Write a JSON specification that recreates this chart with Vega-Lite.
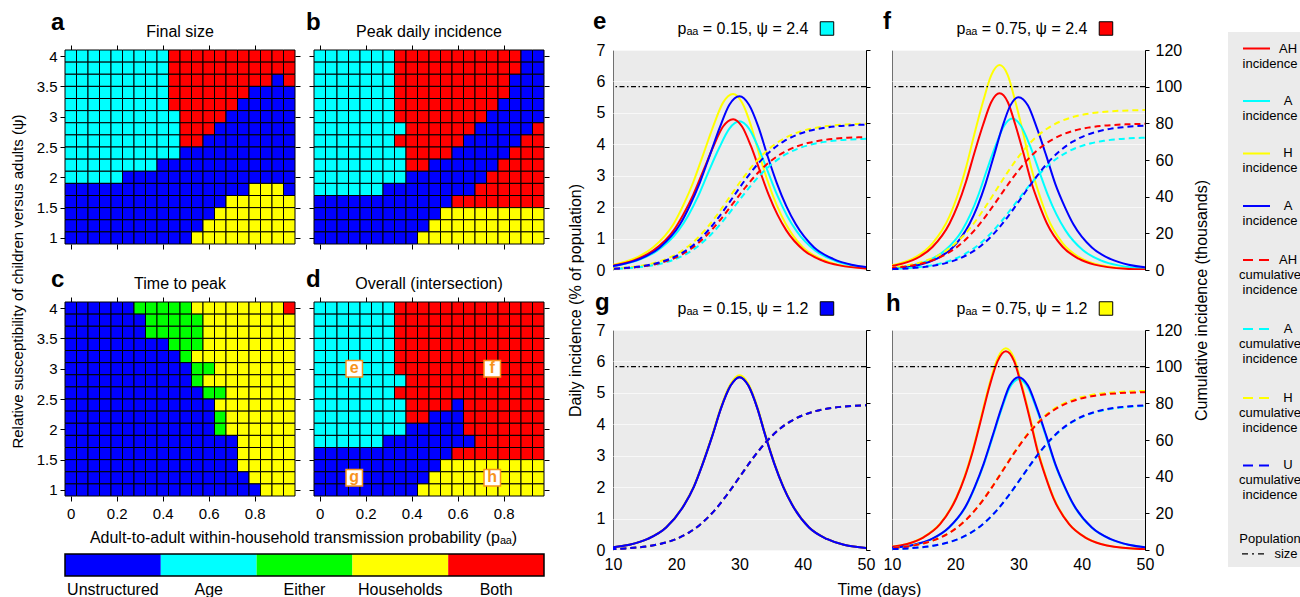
{
"$schema":"https://vega.github.io/schema/vega-lite/v6.json",
"background":"white",
"padding":{"left":10,"top":9,"right":0,"bottom":0},
"autosize":{"type":"pad"},
"config":{
 "font":"Liberation Sans",
 "view":{"stroke":null},
 "axis":{"labelFont":"Liberation Sans","titleFont":"Liberation Sans","labelColor":"#000","titleColor":"#000","tickColor":"#000","domainColor":"#000","labelFontSize":15,"titleFontSize":16,"titleFontWeight":"normal","grid":false,"domain":false,"tickSize":5,"labelPadding":3,"labelFlush":false,"labelOverlap":false},
 "text":{"font":"Liberation Sans","color":"#000"}
},
"datasets":{
"hm":[
{"p":"a","y":4,"c":["A","A","A","A","A","A","A","A","A","B","B","B","B","B","B","B","B","B","B","B"],"x":[0,0.05,0.1,0.15,0.2,0.25,0.3,0.35,0.4,0.45,0.5,0.55,0.6,0.65,0.7,0.75,0.8,0.85,0.9,0.95]},
{"p":"a","y":3.8,"c":["A","A","A","A","A","A","A","A","A","B","B","B","B","B","B","B","B","B","B","B"],"x":[0,0.05,0.1,0.15,0.2,0.25,0.3,0.35,0.4,0.45,0.5,0.55,0.6,0.65,0.7,0.75,0.8,0.85,0.9,0.95]},
{"p":"a","y":3.6,"c":["A","A","A","A","A","A","A","A","A","B","B","B","B","B","B","B","B","B","U","B"],"x":[0,0.05,0.1,0.15,0.2,0.25,0.3,0.35,0.4,0.45,0.5,0.55,0.6,0.65,0.7,0.75,0.8,0.85,0.9,0.95]},
{"p":"a","y":3.4,"c":["A","A","A","A","A","A","A","A","A","B","B","B","B","B","B","B","U","U","U","U"],"x":[0,0.05,0.1,0.15,0.2,0.25,0.3,0.35,0.4,0.45,0.5,0.55,0.6,0.65,0.7,0.75,0.8,0.85,0.9,0.95]},
{"p":"a","y":3.2,"c":["A","A","A","A","A","A","A","A","A","B","B","B","B","B","B","U","U","U","U","U"],"x":[0,0.05,0.1,0.15,0.2,0.25,0.3,0.35,0.4,0.45,0.5,0.55,0.6,0.65,0.7,0.75,0.8,0.85,0.9,0.95]},
{"p":"a","y":3,"c":["A","A","A","A","A","A","A","A","A","A","B","B","B","B","U","U","U","U","U","U"],"x":[0,0.05,0.1,0.15,0.2,0.25,0.3,0.35,0.4,0.45,0.5,0.55,0.6,0.65,0.7,0.75,0.8,0.85,0.9,0.95]},
{"p":"a","y":2.8,"c":["A","A","A","A","A","A","A","A","A","A","B","B","B","U","U","U","U","U","U","U"],"x":[0,0.05,0.1,0.15,0.2,0.25,0.3,0.35,0.4,0.45,0.5,0.55,0.6,0.65,0.7,0.75,0.8,0.85,0.9,0.95]},
{"p":"a","y":2.6,"c":["A","A","A","A","A","A","A","A","A","A","B","B","U","U","U","U","U","U","U","U"],"x":[0,0.05,0.1,0.15,0.2,0.25,0.3,0.35,0.4,0.45,0.5,0.55,0.6,0.65,0.7,0.75,0.8,0.85,0.9,0.95]},
{"p":"a","y":2.4,"c":["A","A","A","A","A","A","A","A","A","A","U","U","U","U","U","U","U","U","U","U"],"x":[0,0.05,0.1,0.15,0.2,0.25,0.3,0.35,0.4,0.45,0.5,0.55,0.6,0.65,0.7,0.75,0.8,0.85,0.9,0.95]},
{"p":"a","y":2.2,"c":["A","A","A","A","A","A","A","A","U","U","U","U","U","U","U","U","U","U","U","U"],"x":[0,0.05,0.1,0.15,0.2,0.25,0.3,0.35,0.4,0.45,0.5,0.55,0.6,0.65,0.7,0.75,0.8,0.85,0.9,0.95]},
{"p":"a","y":2,"c":["A","A","A","A","A","U","U","U","U","U","U","U","U","U","U","U","U","U","U","U"],"x":[0,0.05,0.1,0.15,0.2,0.25,0.3,0.35,0.4,0.45,0.5,0.55,0.6,0.65,0.7,0.75,0.8,0.85,0.9,0.95]},
{"p":"a","y":1.8,"c":["U","U","U","U","U","U","U","U","U","U","U","U","U","U","U","U","H","H","H","U"],"x":[0,0.05,0.1,0.15,0.2,0.25,0.3,0.35,0.4,0.45,0.5,0.55,0.6,0.65,0.7,0.75,0.8,0.85,0.9,0.95]},
{"p":"a","y":1.6,"c":["U","U","U","U","U","U","U","U","U","U","U","U","U","U","H","H","H","H","H","H"],"x":[0,0.05,0.1,0.15,0.2,0.25,0.3,0.35,0.4,0.45,0.5,0.55,0.6,0.65,0.7,0.75,0.8,0.85,0.9,0.95]},
{"p":"a","y":1.4,"c":["U","U","U","U","U","U","U","U","U","U","U","U","U","H","H","H","H","H","H","H"],"x":[0,0.05,0.1,0.15,0.2,0.25,0.3,0.35,0.4,0.45,0.5,0.55,0.6,0.65,0.7,0.75,0.8,0.85,0.9,0.95]},
{"p":"a","y":1.2,"c":["U","U","U","U","U","U","U","U","U","U","U","U","H","H","H","H","H","H","H","H"],"x":[0,0.05,0.1,0.15,0.2,0.25,0.3,0.35,0.4,0.45,0.5,0.55,0.6,0.65,0.7,0.75,0.8,0.85,0.9,0.95]},
{"p":"a","y":1,"c":["U","U","U","U","U","U","U","U","U","U","U","H","H","H","H","H","H","H","H","H"],"x":[0,0.05,0.1,0.15,0.2,0.25,0.3,0.35,0.4,0.45,0.5,0.55,0.6,0.65,0.7,0.75,0.8,0.85,0.9,0.95]},
{"p":"b","y":4,"c":["A","A","A","A","A","A","A","B","B","B","B","B","B","B","B","B","B","B","U","U"],"x":[0,0.05,0.1,0.15,0.2,0.25,0.3,0.35,0.4,0.45,0.5,0.55,0.6,0.65,0.7,0.75,0.8,0.85,0.9,0.95]},
{"p":"b","y":3.8,"c":["A","A","A","A","A","A","A","B","B","B","B","B","B","B","B","B","B","B","U","U"],"x":[0,0.05,0.1,0.15,0.2,0.25,0.3,0.35,0.4,0.45,0.5,0.55,0.6,0.65,0.7,0.75,0.8,0.85,0.9,0.95]},
{"p":"b","y":3.6,"c":["A","A","A","A","A","A","A","B","B","B","B","B","B","B","B","B","B","U","U","U"],"x":[0,0.05,0.1,0.15,0.2,0.25,0.3,0.35,0.4,0.45,0.5,0.55,0.6,0.65,0.7,0.75,0.8,0.85,0.9,0.95]},
{"p":"b","y":3.4,"c":["A","A","A","A","A","A","A","B","B","B","B","B","B","B","B","B","B","U","U","U"],"x":[0,0.05,0.1,0.15,0.2,0.25,0.3,0.35,0.4,0.45,0.5,0.55,0.6,0.65,0.7,0.75,0.8,0.85,0.9,0.95]},
{"p":"b","y":3.2,"c":["A","A","A","A","A","A","A","B","B","B","B","B","B","B","B","B","U","U","U","U"],"x":[0,0.05,0.1,0.15,0.2,0.25,0.3,0.35,0.4,0.45,0.5,0.55,0.6,0.65,0.7,0.75,0.8,0.85,0.9,0.95]},
{"p":"b","y":3,"c":["A","A","A","A","A","A","A","B","B","B","B","B","B","B","B","U","U","U","U","U"],"x":[0,0.05,0.1,0.15,0.2,0.25,0.3,0.35,0.4,0.45,0.5,0.55,0.6,0.65,0.7,0.75,0.8,0.85,0.9,0.95]},
{"p":"b","y":2.8,"c":["A","A","A","A","A","A","A","A","B","B","B","B","B","B","U","U","U","U","U","B"],"x":[0,0.05,0.1,0.15,0.2,0.25,0.3,0.35,0.4,0.45,0.5,0.55,0.6,0.65,0.7,0.75,0.8,0.85,0.9,0.95]},
{"p":"b","y":2.6,"c":["A","A","A","A","A","A","A","B","B","B","B","B","B","U","U","U","U","U","B","B"],"x":[0,0.05,0.1,0.15,0.2,0.25,0.3,0.35,0.4,0.45,0.5,0.55,0.6,0.65,0.7,0.75,0.8,0.85,0.9,0.95]},
{"p":"b","y":2.4,"c":["A","A","A","A","A","A","A","A","B","B","B","B","U","U","U","U","U","B","B","B"],"x":[0,0.05,0.1,0.15,0.2,0.25,0.3,0.35,0.4,0.45,0.5,0.55,0.6,0.65,0.7,0.75,0.8,0.85,0.9,0.95]},
{"p":"b","y":2.2,"c":["A","A","A","A","A","A","A","A","B","B","U","U","U","U","U","U","B","B","B","B"],"x":[0,0.05,0.1,0.15,0.2,0.25,0.3,0.35,0.4,0.45,0.5,0.55,0.6,0.65,0.7,0.75,0.8,0.85,0.9,0.95]},
{"p":"b","y":2,"c":["A","A","A","A","A","A","A","A","U","U","U","U","U","U","U","B","B","B","B","B"],"x":[0,0.05,0.1,0.15,0.2,0.25,0.3,0.35,0.4,0.45,0.5,0.55,0.6,0.65,0.7,0.75,0.8,0.85,0.9,0.95]},
{"p":"b","y":1.8,"c":["A","A","A","A","A","A","U","U","U","U","U","U","U","U","B","B","B","B","B","B"],"x":[0,0.05,0.1,0.15,0.2,0.25,0.3,0.35,0.4,0.45,0.5,0.55,0.6,0.65,0.7,0.75,0.8,0.85,0.9,0.95]},
{"p":"b","y":1.6,"c":["U","U","U","U","U","U","U","U","U","U","U","U","B","B","B","B","B","B","B","B"],"x":[0,0.05,0.1,0.15,0.2,0.25,0.3,0.35,0.4,0.45,0.5,0.55,0.6,0.65,0.7,0.75,0.8,0.85,0.9,0.95]},
{"p":"b","y":1.4,"c":["U","U","U","U","U","U","U","U","U","U","U","H","H","H","H","H","H","H","H","H"],"x":[0,0.05,0.1,0.15,0.2,0.25,0.3,0.35,0.4,0.45,0.5,0.55,0.6,0.65,0.7,0.75,0.8,0.85,0.9,0.95]},
{"p":"b","y":1.2,"c":["U","U","U","U","U","U","U","U","U","U","H","H","H","H","H","H","H","H","H","H"],"x":[0,0.05,0.1,0.15,0.2,0.25,0.3,0.35,0.4,0.45,0.5,0.55,0.6,0.65,0.7,0.75,0.8,0.85,0.9,0.95]},
{"p":"b","y":1,"c":["U","U","U","U","U","U","U","U","U","H","H","H","H","H","H","H","H","H","H","H"],"x":[0,0.05,0.1,0.15,0.2,0.25,0.3,0.35,0.4,0.45,0.5,0.55,0.6,0.65,0.7,0.75,0.8,0.85,0.9,0.95]},
{"p":"c","y":4,"c":["U","U","U","U","U","U","E","E","E","E","E","H","H","H","H","H","H","H","H","B"],"x":[0,0.05,0.1,0.15,0.2,0.25,0.3,0.35,0.4,0.45,0.5,0.55,0.6,0.65,0.7,0.75,0.8,0.85,0.9,0.95]},
{"p":"c","y":3.8,"c":["U","U","U","U","U","U","U","E","E","E","E","E","H","H","H","H","H","H","H","H"],"x":[0,0.05,0.1,0.15,0.2,0.25,0.3,0.35,0.4,0.45,0.5,0.55,0.6,0.65,0.7,0.75,0.8,0.85,0.9,0.95]},
{"p":"c","y":3.6,"c":["U","U","U","U","U","U","U","E","E","E","E","E","H","H","H","H","H","H","H","H"],"x":[0,0.05,0.1,0.15,0.2,0.25,0.3,0.35,0.4,0.45,0.5,0.55,0.6,0.65,0.7,0.75,0.8,0.85,0.9,0.95]},
{"p":"c","y":3.4,"c":["U","U","U","U","U","U","U","U","U","E","E","E","H","H","H","H","H","H","H","H"],"x":[0,0.05,0.1,0.15,0.2,0.25,0.3,0.35,0.4,0.45,0.5,0.55,0.6,0.65,0.7,0.75,0.8,0.85,0.9,0.95]},
{"p":"c","y":3.2,"c":["U","U","U","U","U","U","U","U","U","U","E","H","H","H","H","H","H","H","H","H"],"x":[0,0.05,0.1,0.15,0.2,0.25,0.3,0.35,0.4,0.45,0.5,0.55,0.6,0.65,0.7,0.75,0.8,0.85,0.9,0.95]},
{"p":"c","y":3,"c":["U","U","U","U","U","U","U","U","U","U","U","E","E","H","H","H","H","H","H","H"],"x":[0,0.05,0.1,0.15,0.2,0.25,0.3,0.35,0.4,0.45,0.5,0.55,0.6,0.65,0.7,0.75,0.8,0.85,0.9,0.95]},
{"p":"c","y":2.8,"c":["U","U","U","U","U","U","U","U","U","U","U","E","H","H","H","H","H","H","H","H"],"x":[0,0.05,0.1,0.15,0.2,0.25,0.3,0.35,0.4,0.45,0.5,0.55,0.6,0.65,0.7,0.75,0.8,0.85,0.9,0.95]},
{"p":"c","y":2.6,"c":["U","U","U","U","U","U","U","U","U","U","U","U","E","E","H","H","H","H","H","H"],"x":[0,0.05,0.1,0.15,0.2,0.25,0.3,0.35,0.4,0.45,0.5,0.55,0.6,0.65,0.7,0.75,0.8,0.85,0.9,0.95]},
{"p":"c","y":2.4,"c":["U","U","U","U","U","U","U","U","U","U","U","U","U","H","H","H","H","H","H","H"],"x":[0,0.05,0.1,0.15,0.2,0.25,0.3,0.35,0.4,0.45,0.5,0.55,0.6,0.65,0.7,0.75,0.8,0.85,0.9,0.95]},
{"p":"c","y":2.2,"c":["U","U","U","U","U","U","U","U","U","U","U","U","U","E","H","H","H","H","H","H"],"x":[0,0.05,0.1,0.15,0.2,0.25,0.3,0.35,0.4,0.45,0.5,0.55,0.6,0.65,0.7,0.75,0.8,0.85,0.9,0.95]},
{"p":"c","y":2,"c":["U","U","U","U","U","U","U","U","U","U","U","U","U","E","H","H","H","H","H","H"],"x":[0,0.05,0.1,0.15,0.2,0.25,0.3,0.35,0.4,0.45,0.5,0.55,0.6,0.65,0.7,0.75,0.8,0.85,0.9,0.95]},
{"p":"c","y":1.8,"c":["U","U","U","U","U","U","U","U","U","U","U","U","U","U","U","H","H","H","H","H"],"x":[0,0.05,0.1,0.15,0.2,0.25,0.3,0.35,0.4,0.45,0.5,0.55,0.6,0.65,0.7,0.75,0.8,0.85,0.9,0.95]},
{"p":"c","y":1.6,"c":["U","U","U","U","U","U","U","U","U","U","U","U","U","U","U","H","H","H","H","H"],"x":[0,0.05,0.1,0.15,0.2,0.25,0.3,0.35,0.4,0.45,0.5,0.55,0.6,0.65,0.7,0.75,0.8,0.85,0.9,0.95]},
{"p":"c","y":1.4,"c":["U","U","U","U","U","U","U","U","U","U","U","U","U","U","U","H","H","H","H","H"],"x":[0,0.05,0.1,0.15,0.2,0.25,0.3,0.35,0.4,0.45,0.5,0.55,0.6,0.65,0.7,0.75,0.8,0.85,0.9,0.95]},
{"p":"c","y":1.2,"c":["U","U","U","U","U","U","U","U","U","U","U","U","U","U","U","U","H","H","H","H"],"x":[0,0.05,0.1,0.15,0.2,0.25,0.3,0.35,0.4,0.45,0.5,0.55,0.6,0.65,0.7,0.75,0.8,0.85,0.9,0.95]},
{"p":"c","y":1,"c":["U","U","U","U","U","U","U","U","U","U","U","U","U","U","U","U","U","H","H","H"],"x":[0,0.05,0.1,0.15,0.2,0.25,0.3,0.35,0.4,0.45,0.5,0.55,0.6,0.65,0.7,0.75,0.8,0.85,0.9,0.95]},
{"p":"d","y":4,"c":["A","A","A","A","A","A","A","B","B","B","B","B","B","B","B","B","B","B","B","B"],"x":[0,0.05,0.1,0.15,0.2,0.25,0.3,0.35,0.4,0.45,0.5,0.55,0.6,0.65,0.7,0.75,0.8,0.85,0.9,0.95]},
{"p":"d","y":3.8,"c":["A","A","A","A","A","A","A","B","B","B","B","B","B","B","B","B","B","B","B","B"],"x":[0,0.05,0.1,0.15,0.2,0.25,0.3,0.35,0.4,0.45,0.5,0.55,0.6,0.65,0.7,0.75,0.8,0.85,0.9,0.95]},
{"p":"d","y":3.6,"c":["A","A","A","A","A","A","A","B","B","B","B","B","B","B","B","B","B","B","B","B"],"x":[0,0.05,0.1,0.15,0.2,0.25,0.3,0.35,0.4,0.45,0.5,0.55,0.6,0.65,0.7,0.75,0.8,0.85,0.9,0.95]},
{"p":"d","y":3.4,"c":["A","A","A","A","A","A","A","B","B","B","B","B","B","B","B","B","B","B","B","B"],"x":[0,0.05,0.1,0.15,0.2,0.25,0.3,0.35,0.4,0.45,0.5,0.55,0.6,0.65,0.7,0.75,0.8,0.85,0.9,0.95]},
{"p":"d","y":3.2,"c":["A","A","A","A","A","A","A","B","B","B","B","B","B","B","B","B","B","B","B","B"],"x":[0,0.05,0.1,0.15,0.2,0.25,0.3,0.35,0.4,0.45,0.5,0.55,0.6,0.65,0.7,0.75,0.8,0.85,0.9,0.95]},
{"p":"d","y":3,"c":["A","A","A","A","A","A","A","B","B","B","B","B","B","B","B","B","B","B","B","B"],"x":[0,0.05,0.1,0.15,0.2,0.25,0.3,0.35,0.4,0.45,0.5,0.55,0.6,0.65,0.7,0.75,0.8,0.85,0.9,0.95]},
{"p":"d","y":2.8,"c":["A","A","A","A","A","A","A","A","B","B","B","B","B","B","B","B","B","B","B","B"],"x":[0,0.05,0.1,0.15,0.2,0.25,0.3,0.35,0.4,0.45,0.5,0.55,0.6,0.65,0.7,0.75,0.8,0.85,0.9,0.95]},
{"p":"d","y":2.6,"c":["A","A","A","A","A","A","A","B","B","B","B","B","B","B","B","B","B","B","B","B"],"x":[0,0.05,0.1,0.15,0.2,0.25,0.3,0.35,0.4,0.45,0.5,0.55,0.6,0.65,0.7,0.75,0.8,0.85,0.9,0.95]},
{"p":"d","y":2.4,"c":["A","A","A","A","A","A","A","A","B","B","B","B","U","B","B","B","B","B","B","B"],"x":[0,0.05,0.1,0.15,0.2,0.25,0.3,0.35,0.4,0.45,0.5,0.55,0.6,0.65,0.7,0.75,0.8,0.85,0.9,0.95]},
{"p":"d","y":2.2,"c":["A","A","A","A","A","A","A","A","B","B","U","U","U","B","B","B","B","B","B","B"],"x":[0,0.05,0.1,0.15,0.2,0.25,0.3,0.35,0.4,0.45,0.5,0.55,0.6,0.65,0.7,0.75,0.8,0.85,0.9,0.95]},
{"p":"d","y":2,"c":["A","A","A","A","A","A","A","A","U","U","U","U","U","B","B","B","B","B","B","B"],"x":[0,0.05,0.1,0.15,0.2,0.25,0.3,0.35,0.4,0.45,0.5,0.55,0.6,0.65,0.7,0.75,0.8,0.85,0.9,0.95]},
{"p":"d","y":1.8,"c":["A","A","A","A","A","A","U","U","U","U","U","U","U","U","B","B","B","B","B","B"],"x":[0,0.05,0.1,0.15,0.2,0.25,0.3,0.35,0.4,0.45,0.5,0.55,0.6,0.65,0.7,0.75,0.8,0.85,0.9,0.95]},
{"p":"d","y":1.6,"c":["U","U","U","U","U","U","U","U","U","U","U","U","B","B","B","B","B","B","B","B"],"x":[0,0.05,0.1,0.15,0.2,0.25,0.3,0.35,0.4,0.45,0.5,0.55,0.6,0.65,0.7,0.75,0.8,0.85,0.9,0.95]},
{"p":"d","y":1.4,"c":["U","U","U","U","U","U","U","U","U","U","U","H","H","H","H","H","H","H","H","H"],"x":[0,0.05,0.1,0.15,0.2,0.25,0.3,0.35,0.4,0.45,0.5,0.55,0.6,0.65,0.7,0.75,0.8,0.85,0.9,0.95]},
{"p":"d","y":1.2,"c":["U","U","U","U","U","U","U","U","U","U","H","H","H","H","H","H","H","H","H","H"],"x":[0,0.05,0.1,0.15,0.2,0.25,0.3,0.35,0.4,0.45,0.5,0.55,0.6,0.65,0.7,0.75,0.8,0.85,0.9,0.95]},
{"p":"d","y":1,"c":["U","U","U","U","U","U","U","U","U","H","H","H","H","H","H","H","H","H","H","H"],"x":[0,0.05,0.1,0.15,0.2,0.25,0.3,0.35,0.4,0.45,0.5,0.55,0.6,0.65,0.7,0.75,0.8,0.85,0.9,0.95]}
],
"lab":[{"t":"e","x":0.15,"y":3},{"t":"f","x":0.75,"y":3},{"t":"g","x":0.15,"y":1.2},{"t":"h","x":0.75,"y":1.2}],
"bar":[{"lab":"Unstructured","c":"U"},{"lab":"Age","c":"A"},{"lab":"Either","c":"E"},{"lab":"Households","c":"H"},{"lab":"Both","c":"B"}],
"inc":[
{"p":"e","s":"H","d":[3.8,10.1,13.3,16.4,19.6,21.1,22.7,24.3,25.9,27.4,29,30.4,31.8,33.1,34.5,35.9,37.3,40,42.8,45.5,51,56.5],"v":[0.04,0.171,0.358,0.728,1.473,2.055,2.8,3.696,4.603,5.326,5.6,5.326,4.603,3.696,2.8,2.055,1.473,0.728,0.358,0.171,0.04,0.009]},
{"p":"e","s":"A","d":[4,10.5,13.8,17,20.3,21.9,23.5,25.1,26.8,28.4,30,31.5,33,34.5,36,37.5,39,42,45,48,54,60],"v":[0.034,0.145,0.303,0.615,1.244,1.736,2.365,3.122,3.888,4.498,4.73,4.498,3.888,3.122,2.365,1.736,1.244,0.615,0.303,0.145,0.034,0.008]},
{"p":"e","s":"B","d":[3.8,10.1,13.3,16.4,19.6,21.1,22.7,24.3,25.9,27.4,29,30.4,31.8,33.2,34.6,36,37.4,40.2,43,45.8,51.4,57],"v":[0.034,0.147,0.307,0.624,1.262,1.762,2.4,3.168,3.946,4.565,4.8,4.565,3.946,3.168,2.4,1.762,1.262,0.624,0.307,0.147,0.034,0.008]},
{"p":"e","s":"U","d":[4.8,11.1,14.3,17.4,20.6,22.1,23.7,25.3,26.9,28.4,30,31.5,33,34.4,35.9,37.4,38.9,41.8,44.8,47.7,53.6,59.5],"v":[0.039,0.169,0.354,0.719,1.454,2.03,2.765,3.65,4.546,5.259,5.53,5.259,4.546,3.65,2.765,2.03,1.454,0.719,0.354,0.169,0.039,0.009]},
{"p":"f","s":"H","d":[5.8,11.1,13.8,16.4,19.1,20.4,21.7,23,24.4,25.7,27,28.3,29.5,30.8,32,33.3,34.5,37,39.5,42,47,52],"v":[0.046,0.2,0.417,0.848,1.715,2.393,3.26,4.303,5.359,6.201,6.52,6.201,5.359,4.303,3.26,2.393,1.715,0.848,0.417,0.2,0.046,0.01]},
{"p":"f","s":"A","d":[7.8,13.1,15.8,18.4,21.1,22.4,23.7,25,26.4,27.7,29,30.4,31.8,33.2,34.6,36,37.4,40.2,43,45.8,51.4,57],"v":[0.034,0.147,0.308,0.627,1.268,1.769,2.41,3.181,3.962,4.584,4.82,4.584,3.962,3.181,2.41,1.769,1.268,0.627,0.308,0.147,0.034,0.008]},
{"p":"f","s":"B","d":[5.8,11.1,13.8,16.4,19.1,20.4,21.7,23,24.4,25.7,27,28.3,29.5,30.8,32,33.3,34.5,37,39.5,42,47,52],"v":[0.04,0.172,0.36,0.731,1.478,2.063,2.81,3.709,4.62,5.345,5.62,5.345,4.62,3.709,2.81,2.063,1.478,0.731,0.36,0.172,0.04,0.009]},
{"p":"f","s":"U","d":[9.2,14.4,17,19.6,22.2,23.5,24.8,26.1,27.4,28.7,30,31.5,32.9,34.4,35.8,37.3,38.7,41.6,44.5,47.4,53.2,59],"v":[0.039,0.168,0.352,0.715,1.447,2.019,2.75,3.63,4.521,5.231,5.5,5.231,4.521,3.63,2.75,2.019,1.447,0.715,0.352,0.168,0.039,0.009]},
{"p":"g","s":"H","d":[6.8,12.6,15.5,18.4,21.3,22.8,24.2,25.7,27.1,28.6,30,31.4,32.8,34.1,35.5,36.9,38.3,41,43.8,46.5,52,57.5],"v":[0.039,0.17,0.356,0.723,1.462,2.041,2.78,3.67,4.57,5.288,5.56,5.288,4.57,3.67,2.78,2.041,1.462,0.723,0.356,0.17,0.039,0.009]},
{"p":"g","s":"A","d":[6.8,12.6,15.5,18.4,21.3,22.8,24.2,25.7,27.1,28.6,30,31.4,32.8,34.1,35.5,36.9,38.3,41,43.8,46.5,52,57.5],"v":[0.039,0.168,0.352,0.715,1.447,2.019,2.75,3.63,4.521,5.231,5.5,5.231,4.521,3.63,2.75,2.019,1.447,0.715,0.352,0.168,0.039,0.009]},
{"p":"g","s":"B","d":[6.8,12.6,15.5,18.4,21.3,22.8,24.2,25.7,27.1,28.6,30,31.4,32.8,34.1,35.5,36.9,38.3,41,43.8,46.5,52,57.5],"v":[0.039,0.168,0.352,0.715,1.447,2.019,2.75,3.63,4.521,5.231,5.5,5.231,4.521,3.63,2.75,2.019,1.447,0.715,0.352,0.168,0.039,0.009]},
{"p":"g","s":"U","d":[6.8,12.6,15.5,18.4,21.3,22.8,24.2,25.7,27.1,28.6,30,31.4,32.8,34.1,35.5,36.9,38.3,41,43.8,46.5,52,57.5],"v":[0.039,0.168,0.352,0.715,1.447,2.019,2.75,3.63,4.521,5.231,5.5,5.231,4.521,3.63,2.75,2.019,1.447,0.715,0.352,0.168,0.039,0.009]},
{"p":"h","s":"H","d":[7.2,12.4,15,17.6,20.2,21.5,22.8,24.1,25.4,26.7,28,29.3,30.5,31.8,33,34.3,35.5,38,40.5,43,48,53],"v":[0.046,0.196,0.411,0.835,1.688,2.356,3.21,4.237,5.277,6.105,6.42,6.105,5.277,4.237,3.21,2.356,1.688,0.835,0.411,0.196,0.046,0.01]},
{"p":"h","s":"A","d":[8,13.5,16.3,19,21.8,23.1,24.5,25.9,27.3,28.6,30,31.5,32.9,34.4,35.8,37.3,38.7,41.6,44.5,47.4,53.2,59],"v":[0.039,0.166,0.348,0.706,1.428,1.993,2.715,3.584,4.463,5.164,5.43,5.164,4.463,3.584,2.715,1.993,1.428,0.706,0.348,0.166,0.039,0.009]},
{"p":"h","s":"B","d":[7.2,12.4,15,17.6,20.2,21.5,22.8,24.1,25.4,26.7,28,29.3,30.5,31.8,33,34.3,35.5,38,40.5,43,48,53],"v":[0.045,0.193,0.404,0.822,1.662,2.319,3.16,4.171,5.195,6.01,6.32,6.01,5.195,4.171,3.16,2.319,1.662,0.822,0.404,0.193,0.045,0.01]},
{"p":"h","s":"U","d":[8,13.5,16.3,19,21.8,23.1,24.5,25.9,27.3,28.6,30,31.5,32.9,34.4,35.8,37.3,38.7,41.6,44.5,47.4,53.2,59],"v":[0.039,0.168,0.352,0.715,1.447,2.019,2.75,3.63,4.521,5.231,5.5,5.231,4.521,3.63,2.75,2.019,1.447,0.715,0.352,0.168,0.039,0.009]}
],
"cum":[
{"p":"e","s":"H","d":[6.5,8.5,10.5,12.5,14.5,16.5,18.5,20.5,22.5,24.5,26.5,28.5,30.5,32.5,34.5,36.5,38.5,40.5,42.5,44.5,46.5,48.5,50.5,52.5],"c":[0.33,0.54,0.88,1.44,2.35,3.8,6.09,9.56,14.63,21.57,30.28,40.1,49.92,58.63,65.57,70.64,74.11,76.4,77.85,78.76,79.32,79.66,79.87,80]},
{"p":"e","s":"A","d":[7.5,9.5,11.5,13.5,15.5,17.5,19.5,21.5,23.5,25.5,27.5,29.5,31.5,33.5,35.5,37.5,39.5,41.5,43.5,45.5,47.5,49.5,51.5,53.5],"c":[0.3,0.48,0.79,1.3,2.11,3.41,5.46,8.58,13.13,19.36,27.18,36,44.82,52.64,58.87,63.42,66.54,68.59,69.89,70.7,71.21,71.52,71.7,71.82]},
{"p":"e","s":"B","d":[7,9,11,13,15,17,19,21,23,25,27,29,31,33,35,37,39,41,43,45,47,49,51,53],"c":[0.3,0.49,0.8,1.31,2.14,3.46,5.53,8.69,13.3,19.6,27.52,36.45,45.38,53.3,59.6,64.21,67.37,69.44,70.76,71.59,72.1,72.41,72.6,72.72]},
{"p":"e","s":"U","d":[7,9,11,13,15,17,19,21,23,25,27,29,31,33,35,37,39,41,43,45,47,49,51,53],"c":[0.33,0.53,0.88,1.43,2.34,3.78,6.05,9.5,14.54,21.43,30.09,39.85,49.61,58.27,65.16,70.2,73.65,75.92,77.36,78.27,78.82,79.17,79.37,79.5]},
{"p":"f","s":"H","d":[4.5,6.5,8.5,10.5,12.5,14.5,16.5,18.5,20.5,22.5,24.5,26.5,28.5,30.5,32.5,34.5,36.5,38.5,40.5,42.5,44.5,46.5,48.5,50.5],"c":[0.36,0.59,0.96,1.58,2.56,4.15,6.64,10.43,15.96,23.53,33.03,43.75,54.47,63.97,71.54,77.07,80.86,83.35,84.94,85.93,86.54,86.91,87.14,87.28]},
{"p":"f","s":"A","d":[7.5,9.5,11.5,13.5,15.5,17.5,19.5,21.5,23.5,25.5,27.5,29.5,31.5,33.5,35.5,37.5,39.5,41.5,43.5,45.5,47.5,49.5,51.5,53.5],"c":[0.3,0.49,0.8,1.31,2.13,3.44,5.51,8.65,13.24,19.52,27.41,36.3,45.19,53.08,59.36,63.95,67.09,69.16,70.47,71.29,71.8,72.11,72.3,72.42]},
{"p":"f","s":"B","d":[5,7,9,11,13,15,17,19,21,23,25,27,29,31,33,35,37,39,41,43,45,47,49,51],"c":[0.33,0.54,0.88,1.44,2.34,3.79,6.07,9.54,14.59,21.51,30.2,40,49.8,58.49,65.41,70.46,73.93,76.21,77.66,78.56,79.12,79.46,79.67,79.8]},
{"p":"f","s":"U","d":[8.5,10.5,12.5,14.5,16.5,18.5,20.5,22.5,24.5,26.5,28.5,30.5,32.5,34.5,36.5,38.5,40.5,42.5,44.5,46.5,48.5,50.5,52.5,54.5],"c":[0.33,0.53,0.87,1.43,2.32,3.76,6.02,9.45,14.46,21.32,29.94,39.65,49.36,57.98,64.84,69.85,73.28,75.54,76.98,77.87,78.43,78.77,78.97,79.1]},
{"p":"g","s":"H","d":[8,10,12,14,16,18,20,22,24,26,28,30,32,34,36,38,40,42,44,46,48,50,52,54],"c":[0.33,0.53,0.87,1.43,2.33,3.77,6.03,9.48,14.5,21.38,30.01,39.75,49.49,58.12,65,70.02,73.47,75.73,77.17,78.07,78.63,78.97,79.17,79.3]},
{"p":"g","s":"A","d":[8,10,12,14,16,18,20,22,24,26,28,30,32,34,36,38,40,42,44,46,48,50,52,54],"c":[0.33,0.53,0.87,1.43,2.33,3.77,6.03,9.48,14.5,21.38,30.01,39.75,49.49,58.12,65,70.02,73.47,75.73,77.17,78.07,78.63,78.97,79.17,79.3]},
{"p":"g","s":"B","d":[8,10,12,14,16,18,20,22,24,26,28,30,32,34,36,38,40,42,44,46,48,50,52,54],"c":[0.33,0.53,0.87,1.43,2.33,3.77,6.03,9.48,14.5,21.38,30.01,39.75,49.49,58.12,65,70.02,73.47,75.73,77.17,78.07,78.63,78.97,79.17,79.3]},
{"p":"g","s":"U","d":[8,10,12,14,16,18,20,22,24,26,28,30,32,34,36,38,40,42,44,46,48,50,52,54],"c":[0.33,0.53,0.87,1.43,2.33,3.77,6.03,9.48,14.5,21.38,30.01,39.75,49.49,58.12,65,70.02,73.47,75.73,77.17,78.07,78.63,78.97,79.17,79.3]},
{"p":"h","s":"H","d":[5.5,7.5,9.5,11.5,13.5,15.5,17.5,19.5,21.5,23.5,25.5,27.5,29.5,31.5,33.5,35.5,37.5,39.5,41.5,43.5,45.5,47.5,49.5,51.5],"c":[0.36,0.58,0.96,1.57,2.55,4.13,6.61,10.38,15.89,23.42,32.88,43.55,54.22,63.68,71.21,76.72,80.49,82.97,84.55,85.53,86.14,86.52,86.74,86.88]},
{"p":"h","s":"A","d":[8.5,10.5,12.5,14.5,16.5,18.5,20.5,22.5,24.5,26.5,28.5,30.5,32.5,34.5,36.5,38.5,40.5,42.5,44.5,46.5,48.5,50.5,52.5,54.5],"c":[0.32,0.53,0.87,1.43,2.32,3.75,6.01,9.44,14.45,21.3,29.9,39.6,49.3,57.9,64.75,69.76,73.19,75.45,76.88,77.77,78.33,78.67,78.88,79]},
{"p":"h","s":"B","d":[5.5,7.5,9.5,11.5,13.5,15.5,17.5,19.5,21.5,23.5,25.5,27.5,29.5,31.5,33.5,35.5,37.5,39.5,41.5,43.5,45.5,47.5,49.5,51.5],"c":[0.35,0.58,0.95,1.56,2.53,4.1,6.56,10.3,15.76,23.23,32.62,43.2,53.78,63.17,70.64,76.1,79.84,82.3,83.87,84.84,85.45,85.82,86.05,86.18]},
{"p":"h","s":"U","d":[8.5,10.5,12.5,14.5,16.5,18.5,20.5,22.5,24.5,26.5,28.5,30.5,32.5,34.5,36.5,38.5,40.5,42.5,44.5,46.5,48.5,50.5,52.5,54.5],"c":[0.33,0.53,0.87,1.43,2.33,3.77,6.03,9.48,14.5,21.38,30.01,39.75,49.49,58.12,65,70.02,73.47,75.73,77.17,78.07,78.63,78.97,79.17,79.3]}
],
"leg":[
{"s":"B","k":"inc","top":"AH","rest":"incidence","line":1.1},
{"s":"A","k":"inc","top":"A","rest":"incidence","line":4.6},
{"s":"H","k":"inc","top":"H","rest":"incidence","line":8.1},
{"s":"U","k":"inc","top":"A","rest":"incidence","line":11.6},
{"s":"B","k":"cum","top":"AH","rest":"cumulative\nincidence","line":15.2},
{"s":"A","k":"cum","top":"A","rest":"cumulative\nincidence","line":19.8},
{"s":"H","k":"cum","top":"H","rest":"cumulative\nincidence","line":24.4},
{"s":"U","k":"cum","top":"U","rest":"cumulative\nincidence","line":28.9},
{"s":"P","k":"pop","top":"Population","rest":"size","line":33.8}
]
},
"spacing":16,
"hconcat":[
{"columns":2,"spacing":{"row":58,"column":19},"bounds":"flush","concat":[
{"width":230,"height":194,"data":{"name":"hm"},
 "transform":[{"filter":"datum.p === 'a'"},{"flatten":["c","x"]}],
 "resolve":{"scale":{"x":"independent","y":"independent"}},
 "layer":[
  {"mark":{"type":"rect","stroke":"#000","strokeWidth":1},"encoding":{"x":{"field":"x","type":"ordinal","axis":null,"scale":{"paddingInner":0,"paddingOuter":0}},"y":{"field":"y","type":"ordinal","axis":null,"sort":"descending","scale":{"paddingInner":0,"paddingOuter":0}},"color":{"field":"c","type":"nominal","legend":null,"scale":{"domain":["U","A","E","H","B"],"range":["#0000ff","#00ffff","#00ff00","#ffff00","#ff0000"]}}}},
  {"data":{"values":[{}]},"mark":{"type":"point","opacity":0},"encoding":{"x":{"datum":0,"type":"quantitative","scale":{"domain":[-0.025,0.975],"nice":false,"zero":false},"axis":{"orient":"bottom","values":[0,0.2,0.4,0.6,0.8],"format":".1~f","labels":false,"title":null}},"y":{"datum":1,"type":"quantitative","scale":{"domain":[0.9,4.1],"nice":false,"zero":false},"axis":{"orient":"left","values":[1,1.5,2,2.5,3,3.5,4],"format":".1~f","title":"Relative susceptibility of children versus adults (ψ)","titleFontSize":15,"titleX":-40,"titleY":231,"titleBaseline":"bottom","titleAlign":"center"}}}},
  {"data":{"values":[{}]},"mark":{"type":"point","opacity":0},"encoding":{"x":{"datum":0,"type":"quantitative","scale":{"domain":[-0.025,0.975],"nice":false,"zero":false},"axis":{"orient":"top","values":[0,0.2,0.4,0.6,0.8],"labels":false,"title":null}},"y":{"datum":1,"type":"quantitative","scale":{"domain":[0.9,4.1],"nice":false,"zero":false},"axis":{"orient":"right","values":[1,1.5,2,2.5,3,3.5,4],"labels":false,"title":null}}}},
  {"data":{"values":[{}]},"mark":{"type":"text","fontSize":24,"fontWeight":"bold","align":"left","baseline":"alphabetic"},"encoding":{"x":{"datum":-0.086,"type":"quantitative","scale":{"domain":[-0.025,0.975],"nice":false,"zero":false},"axis":null},"y":{"datum":4.425,"type":"quantitative","scale":{"domain":[0.9,4.1],"nice":false,"zero":false},"axis":null},"text":{"value":"a"}}},
  {"data":{"values":[{}]},"mark":{"type":"text","fontSize":16,"align":"center","baseline":"alphabetic"},"encoding":{"x":{"datum":0.475,"type":"quantitative","scale":{"domain":[-0.025,0.975],"nice":false,"zero":false},"axis":null},"y":{"datum":4.3145,"type":"quantitative","scale":{"domain":[0.9,4.1],"nice":false,"zero":false},"axis":null},"text":{"value":"Final size"}}}
 ]},
{"width":230,"height":194,"data":{"name":"hm"},
 "transform":[{"filter":"datum.p === 'b'"},{"flatten":["c","x"]}],
 "resolve":{"scale":{"x":"independent","y":"independent"}},
 "layer":[
  {"mark":{"type":"rect","stroke":"#000","strokeWidth":1},"encoding":{"x":{"field":"x","type":"ordinal","axis":null,"scale":{"paddingInner":0,"paddingOuter":0}},"y":{"field":"y","type":"ordinal","axis":null,"sort":"descending","scale":{"paddingInner":0,"paddingOuter":0}},"color":{"field":"c","type":"nominal","legend":null,"scale":{"domain":["U","A","E","H","B"],"range":["#0000ff","#00ffff","#00ff00","#ffff00","#ff0000"]}}}},
  {"data":{"values":[{}]},"mark":{"type":"point","opacity":0},"encoding":{"x":{"datum":0,"type":"quantitative","scale":{"domain":[-0.025,0.975],"nice":false,"zero":false},"axis":{"orient":"bottom","values":[0,0.2,0.4,0.6,0.8],"labels":false,"title":null}},"y":{"datum":1,"type":"quantitative","scale":{"domain":[0.9,4.1],"nice":false,"zero":false},"axis":{"orient":"left","values":[1,1.5,2,2.5,3,3.5,4],"labels":false,"title":null}}}},
  {"data":{"values":[{}]},"mark":{"type":"point","opacity":0},"encoding":{"x":{"datum":0,"type":"quantitative","scale":{"domain":[-0.025,0.975],"nice":false,"zero":false},"axis":{"orient":"top","values":[0,0.2,0.4,0.6,0.8],"labels":false,"title":null}},"y":{"datum":1,"type":"quantitative","scale":{"domain":[0.9,4.1],"nice":false,"zero":false},"axis":{"orient":"right","values":[1,1.5,2,2.5,3,3.5,4],"labels":false,"title":null}}}},
  {"data":{"values":[{}]},"mark":{"type":"text","fontSize":24,"fontWeight":"bold","align":"left","baseline":"alphabetic"},"encoding":{"x":{"datum":-0.06,"type":"quantitative","scale":{"domain":[-0.025,0.975],"nice":false,"zero":false},"axis":null},"y":{"datum":4.425,"type":"quantitative","scale":{"domain":[0.9,4.1],"nice":false,"zero":false},"axis":null},"text":{"value":"b"}}},
  {"data":{"values":[{}]},"mark":{"type":"text","fontSize":16,"align":"center","baseline":"alphabetic"},"encoding":{"x":{"datum":0.475,"type":"quantitative","scale":{"domain":[-0.025,0.975],"nice":false,"zero":false},"axis":null},"y":{"datum":4.3145,"type":"quantitative","scale":{"domain":[0.9,4.1],"nice":false,"zero":false},"axis":null},"text":{"value":"Peak daily incidence"}}}
 ]},
{"width":230,"height":194,"data":{"name":"hm"},
 "transform":[{"filter":"datum.p === 'c'"},{"flatten":["c","x"]}],
 "resolve":{"scale":{"x":"independent","y":"independent"}},
 "layer":[
  {"mark":{"type":"rect","stroke":"#000","strokeWidth":1},"encoding":{"x":{"field":"x","type":"ordinal","axis":null,"scale":{"paddingInner":0,"paddingOuter":0}},"y":{"field":"y","type":"ordinal","axis":null,"sort":"descending","scale":{"paddingInner":0,"paddingOuter":0}},"color":{"field":"c","type":"nominal","legend":null,"scale":{"domain":["U","A","E","H","B"],"range":["#0000ff","#00ffff","#00ff00","#ffff00","#ff0000"]}}}},
  {"data":{"values":[{}]},"mark":{"type":"point","opacity":0},"encoding":{"x":{"datum":0,"type":"quantitative","scale":{"domain":[-0.025,0.975],"nice":false,"zero":false},"axis":{"orient":"bottom","values":[0,0.2,0.4,0.6,0.8],"format":".1~f","labelPadding":5,"title":"Adult-to-adult within-household transmission probability (pₐₐ)","titleX":238,"titleY":46,"titleBaseline":"alphabetic","titleAlign":"center"}},"y":{"datum":1,"type":"quantitative","scale":{"domain":[0.9,4.1],"nice":false,"zero":false},"axis":{"orient":"left","values":[1,1.5,2,2.5,3,3.5,4],"format":".1~f","title":null}}}},
  {"data":{"values":[{}]},"mark":{"type":"point","opacity":0},"encoding":{"x":{"datum":0,"type":"quantitative","scale":{"domain":[-0.025,0.975],"nice":false,"zero":false},"axis":{"orient":"top","values":[0,0.2,0.4,0.6,0.8],"labels":false,"title":null}},"y":{"datum":1,"type":"quantitative","scale":{"domain":[0.9,4.1],"nice":false,"zero":false},"axis":{"orient":"right","values":[1,1.5,2,2.5,3,3.5,4],"labels":false,"title":null}}}},
  {"data":{"values":[{}]},"mark":{"type":"text","fontSize":24,"fontWeight":"bold","align":"left","baseline":"alphabetic"},"encoding":{"x":{"datum":-0.086,"type":"quantitative","scale":{"domain":[-0.025,0.975],"nice":false,"zero":false},"axis":null},"y":{"datum":4.348,"type":"quantitative","scale":{"domain":[0.9,4.1],"nice":false,"zero":false},"axis":null},"text":{"value":"c"}}},
  {"data":{"values":[{}]},"mark":{"type":"text","fontSize":16,"align":"center","baseline":"alphabetic"},"encoding":{"x":{"datum":0.475,"type":"quantitative","scale":{"domain":[-0.025,0.975],"nice":false,"zero":false},"axis":null},"y":{"datum":4.3145,"type":"quantitative","scale":{"domain":[0.9,4.1],"nice":false,"zero":false},"axis":null},"text":{"value":"Time to peak"}}}
 ]},
{"width":230,"height":194,"data":{"name":"hm"},
 "transform":[{"filter":"datum.p === 'd'"},{"flatten":["c","x"]}],
 "resolve":{"scale":{"x":"independent","y":"independent"}},
 "layer":[
  {"mark":{"type":"rect","stroke":"#000","strokeWidth":1},"encoding":{"x":{"field":"x","type":"ordinal","axis":null,"scale":{"paddingInner":0,"paddingOuter":0}},"y":{"field":"y","type":"ordinal","axis":null,"sort":"descending","scale":{"paddingInner":0,"paddingOuter":0}},"color":{"field":"c","type":"nominal","legend":null,"scale":{"domain":["U","A","E","H","B"],"range":["#0000ff","#00ffff","#00ff00","#ffff00","#ff0000"]}}}},
  {"data":{"values":[{}]},"mark":{"type":"point","opacity":0},"encoding":{"x":{"datum":0,"type":"quantitative","scale":{"domain":[-0.025,0.975],"nice":false,"zero":false},"axis":{"orient":"bottom","values":[0,0.2,0.4,0.6,0.8],"format":".1~f","labelPadding":5,"title":null}},"y":{"datum":1,"type":"quantitative","scale":{"domain":[0.9,4.1],"nice":false,"zero":false},"axis":{"orient":"left","values":[1,1.5,2,2.5,3,3.5,4],"labels":false,"title":null}}}},
  {"data":{"values":[{}]},"mark":{"type":"point","opacity":0},"encoding":{"x":{"datum":0,"type":"quantitative","scale":{"domain":[-0.025,0.975],"nice":false,"zero":false},"axis":{"orient":"top","values":[0,0.2,0.4,0.6,0.8],"labels":false,"title":null}},"y":{"datum":1,"type":"quantitative","scale":{"domain":[0.9,4.1],"nice":false,"zero":false},"axis":{"orient":"right","values":[1,1.5,2,2.5,3,3.5,4],"labels":false,"title":null}}}},
  {"data":{"name":"lab"},"mark":{"type":"point","shape":"square","filled":true,"size":272,"fill":"#ffffff","stroke":"#f7941d","strokeWidth":1.5,"opacity":1},"encoding":{"x":{"field":"x","type":"quantitative","scale":{"domain":[-0.025,0.975],"nice":false,"zero":false},"axis":null},"y":{"field":"y","type":"quantitative","scale":{"domain":[0.9,4.1],"nice":false,"zero":false},"axis":null}}},
  {"data":{"name":"lab"},"mark":{"type":"text","fontSize":16,"fontWeight":"bold","color":"#f7941d","align":"center","baseline":"middle","dy":-1},"encoding":{"x":{"field":"x","type":"quantitative","scale":{"domain":[-0.025,0.975],"nice":false,"zero":false},"axis":null},"y":{"field":"y","type":"quantitative","scale":{"domain":[0.9,4.1],"nice":false,"zero":false},"axis":null},"text":{"field":"t"}}},
  {"data":{"values":[{}]},"mark":{"type":"text","fontSize":24,"fontWeight":"bold","align":"left","baseline":"alphabetic"},"encoding":{"x":{"datum":-0.06,"type":"quantitative","scale":{"domain":[-0.025,0.975],"nice":false,"zero":false},"axis":null},"y":{"datum":4.348,"type":"quantitative","scale":{"domain":[0.9,4.1],"nice":false,"zero":false},"axis":null},"text":{"value":"d"}}},
  {"data":{"values":[{}]},"mark":{"type":"text","fontSize":16,"align":"center","baseline":"alphabetic"},"encoding":{"x":{"datum":0.475,"type":"quantitative","scale":{"domain":[-0.025,0.975],"nice":false,"zero":false},"axis":null},"y":{"datum":4.3145,"type":"quantitative","scale":{"domain":[0.9,4.1],"nice":false,"zero":false},"axis":null},"text":{"value":"Overall (intersection)"}}}
 ]},
{"width":230,"height":22,
 "resolve":{"scale":{"x":"independent"}},
 "layer":[
  {"data":{"name":"bar"},"mark":{"type":"rect"},"encoding":{"x":{"field":"lab","type":"nominal","sort":null,"scale":{"range":[0,479],"paddingInner":0,"paddingOuter":0},"axis":{"orient":"bottom","title":null,"ticks":false,"tickSize":0,"domain":false,"labelAngle":0,"labelFontSize":16,"labelPadding":5}},"color":{"field":"c","type":"nominal","legend":null,"scale":{"domain":["U","A","E","H","B"],"range":["#0000ff","#00ffff","#00ff00","#ffff00","#ff0000"]}}}},
  {"data":{"values":[{}]},"mark":{"type":"rect","fillOpacity":0,"stroke":"#000","strokeWidth":1.5},"encoding":{"x":{"datum":0,"type":"quantitative","scale":{"domain":[0,1],"range":[0,479]},"axis":null},"x2":{"datum":1}}}
 ]}
]},
{"columns":2,"spacing":{"row":60,"column":26},"bounds":"flush","concat":[
{"width":253,"height":220,"view":{"fill":"#ebebeb","stroke":"#707070"},
 "resolve":{"scale":{"y":"independent"}},
 "layer":[
  {"data":{"name":"inc"},"transform":[{"filter":"datum.p === 'e'"},{"flatten":["d","v"]}],"mark":{"type":"line","strokeWidth":2,"interpolate":"monotone","clip":true},
   "encoding":{"x":{"field":"d","type":"quantitative","scale":{"domain":[10,50],"nice":false,"zero":false},"axis":{"values":[10,20,30,40,50],"labels":false,"ticks":false,"tickSize":0,"labelFontSize":16,"labelPadding":6,"title":null}},
    "y":{"field":"v","type":"quantitative","scale":{"domain":[0,7],"nice":false,"zero":false},"axis":{"orient":"left","values":[0,1,2,3,4,5,6,7],"grid":true,"gridColor":"#f8f8f8","ticks":false,"tickSize":0,"labelFontSize":16,"labelPadding":8,"title":"Daily incidence (% of population)","titleX":-30,"titleY":250,"titleBaseline":"bottom","titleAlign":"center"}},
    "color":{"field":"s","type":"nominal","legend":null,"scale":{"domain":["U","A","E","H","B"],"range":["#0000ff","#00ffff","#00ff00","#ffff00","#ff0000"]}}}},
  {"data":{"name":"cum"},"transform":[{"filter":"datum.p === 'e'"},{"flatten":["d","c"]}],"mark":{"type":"line","strokeWidth":2,"strokeDash":[6,4],"interpolate":"monotone","clip":true},
   "encoding":{"x":{"field":"d","type":"quantitative","scale":{"domain":[10,50],"nice":false,"zero":false}},
    "y":{"field":"c","type":"quantitative","scale":{"domain":[0,120],"nice":false,"zero":false},"axis":{"orient":"right","values":[0,20,40,60,80,100,120],"domain":true,"tickSize":4,"labels":false,"title":null}},
    "color":{"field":"s","type":"nominal","legend":null}}},
  {"data":{"values":[{}]},"mark":{"type":"rule","color":"#000","strokeWidth":1.2,"strokeDash":[5,2.5,1.5,2.5]},"encoding":{"y":{"datum":100,"type":"quantitative","scale":{"domain":[0,120],"nice":false,"zero":false},"axis":null}}},
  {"data":{"values":[{}]},"mark":{"type":"text","fontSize":24,"fontWeight":"bold","align":"left","baseline":"alphabetic"},"encoding":{"x":{"datum":6.84,"type":"quantitative","scale":{"domain":[10,50],"nice":false,"zero":false}},"y":{"datum":7.668,"type":"quantitative","scale":{"domain":[0,7],"nice":false,"zero":false},"axis":null},"text":{"value":"e"}}},
  {"data":{"values":[{}]},"mark":{"type":"text","fontSize":16,"align":"center","baseline":"alphabetic"},"encoding":{"x":{"datum":30.55,"type":"quantitative","scale":{"domain":[10,50],"nice":false,"zero":false}},"y":{"datum":7.52,"type":"quantitative","scale":{"domain":[0,7],"nice":false,"zero":false},"axis":null},"text":{"value":"pₐₐ = 0.15, ψ = 2.4"}}},
  {"data":{"values":[{}]},"mark":{"type":"point","shape":"square","filled":true,"size":182,"fill":"#00ffff","stroke":"#000","strokeWidth":1,"opacity":1},"encoding":{"x":{"datum":43.83,"type":"quantitative","scale":{"domain":[10,50],"nice":false,"zero":false}},"y":{"datum":7.684,"type":"quantitative","scale":{"domain":[0,7],"nice":false,"zero":false},"axis":null}}}
 ]},
{"width":253,"height":220,"view":{"fill":"#ebebeb","stroke":"#707070"},
 "resolve":{"scale":{"y":"independent"}},
 "layer":[
  {"data":{"name":"inc"},"transform":[{"filter":"datum.p === 'f'"},{"flatten":["d","v"]}],"mark":{"type":"line","strokeWidth":2,"interpolate":"monotone","clip":true},
   "encoding":{"x":{"field":"d","type":"quantitative","scale":{"domain":[10,50],"nice":false,"zero":false},"axis":{"values":[10,20,30,40,50],"labels":false,"ticks":false,"tickSize":0,"labelFontSize":16,"labelPadding":6,"title":null}},
    "y":{"field":"v","type":"quantitative","scale":{"domain":[0,7],"nice":false,"zero":false},"axis":{"orient":"left","values":[0,1,2,3,4,5,6,7],"grid":true,"gridColor":"#f8f8f8","ticks":false,"tickSize":0,"labels":false,"title":null}},
    "color":{"field":"s","type":"nominal","legend":null,"scale":{"domain":["U","A","E","H","B"],"range":["#0000ff","#00ffff","#00ff00","#ffff00","#ff0000"]}}}},
  {"data":{"name":"cum"},"transform":[{"filter":"datum.p === 'f'"},{"flatten":["d","c"]}],"mark":{"type":"line","strokeWidth":2,"strokeDash":[6,4],"interpolate":"monotone","clip":true},
   "encoding":{"x":{"field":"d","type":"quantitative","scale":{"domain":[10,50],"nice":false,"zero":false}},
    "y":{"field":"c","type":"quantitative","scale":{"domain":[0,120],"nice":false,"zero":false},"axis":{"orient":"right","values":[0,20,40,60,80,100,120],"domain":true,"tickSize":4,"labels":true,"labelFontSize":16,"labelPadding":6,"title":"Cumulative incidence (thousands)","titleAngle":270,"titleX":64,"titleY":250,"titleBaseline":"bottom","titleAlign":"center"}},
    "color":{"field":"s","type":"nominal","legend":null}}},
  {"data":{"values":[{}]},"mark":{"type":"rule","color":"#000","strokeWidth":1.2,"strokeDash":[5,2.5,1.5,2.5]},"encoding":{"y":{"datum":100,"type":"quantitative","scale":{"domain":[0,120],"nice":false,"zero":false},"axis":null}}},
  {"data":{"values":[{}]},"mark":{"type":"text","fontSize":24,"fontWeight":"bold","align":"left","baseline":"alphabetic"},"encoding":{"x":{"datum":8.58,"type":"quantitative","scale":{"domain":[10,50],"nice":false,"zero":false}},"y":{"datum":7.668,"type":"quantitative","scale":{"domain":[0,7],"nice":false,"zero":false},"axis":null},"text":{"value":"f"}}},
  {"data":{"values":[{}]},"mark":{"type":"text","fontSize":16,"align":"center","baseline":"alphabetic"},"encoding":{"x":{"datum":30.55,"type":"quantitative","scale":{"domain":[10,50],"nice":false,"zero":false}},"y":{"datum":7.52,"type":"quantitative","scale":{"domain":[0,7],"nice":false,"zero":false},"axis":null},"text":{"value":"pₐₐ = 0.75, ψ = 2.4"}}},
  {"data":{"values":[{}]},"mark":{"type":"point","shape":"square","filled":true,"size":182,"fill":"#ff0000","stroke":"#000","strokeWidth":1,"opacity":1},"encoding":{"x":{"datum":43.83,"type":"quantitative","scale":{"domain":[10,50],"nice":false,"zero":false}},"y":{"datum":7.684,"type":"quantitative","scale":{"domain":[0,7],"nice":false,"zero":false},"axis":null}}}
 ]},
{"width":253,"height":220,"view":{"fill":"#ebebeb","stroke":"#707070"},
 "resolve":{"scale":{"y":"independent"}},
 "layer":[
  {"data":{"name":"inc"},"transform":[{"filter":"datum.p === 'g'"},{"flatten":["d","v"]}],"mark":{"type":"line","strokeWidth":2,"interpolate":"monotone","clip":true},
   "encoding":{"x":{"field":"d","type":"quantitative","scale":{"domain":[10,50],"nice":false,"zero":false},"axis":{"values":[10,20,30,40,50],"labels":true,"ticks":false,"tickSize":0,"labelFontSize":16,"labelPadding":6,"title":"Time (days)","titleX":266,"titleY":44,"titleBaseline":"alphabetic","titleAlign":"center"}},
    "y":{"field":"v","type":"quantitative","scale":{"domain":[0,7],"nice":false,"zero":false},"axis":{"orient":"left","values":[0,1,2,3,4,5,6,7],"grid":true,"gridColor":"#f8f8f8","ticks":false,"tickSize":0,"labelFontSize":16,"labelPadding":8,"title":null}},
    "color":{"field":"s","type":"nominal","legend":null,"scale":{"domain":["U","A","E","H","B"],"range":["#0000ff","#00ffff","#00ff00","#ffff00","#ff0000"]}}}},
  {"data":{"name":"cum"},"transform":[{"filter":"datum.p === 'g'"},{"flatten":["d","c"]}],"mark":{"type":"line","strokeWidth":2,"strokeDash":[6,4],"interpolate":"monotone","clip":true},
   "encoding":{"x":{"field":"d","type":"quantitative","scale":{"domain":[10,50],"nice":false,"zero":false}},
    "y":{"field":"c","type":"quantitative","scale":{"domain":[0,120],"nice":false,"zero":false},"axis":{"orient":"right","values":[0,20,40,60,80,100,120],"domain":true,"tickSize":4,"labels":false,"title":null}},
    "color":{"field":"s","type":"nominal","legend":null}}},
  {"data":{"values":[{}]},"mark":{"type":"rule","color":"#000","strokeWidth":1.2,"strokeDash":[5,2.5,1.5,2.5]},"encoding":{"y":{"datum":100,"type":"quantitative","scale":{"domain":[0,120],"nice":false,"zero":false},"axis":null}}},
  {"data":{"values":[{}]},"mark":{"type":"text","fontSize":24,"fontWeight":"bold","align":"left","baseline":"alphabetic"},"encoding":{"x":{"datum":7.15,"type":"quantitative","scale":{"domain":[10,50],"nice":false,"zero":false}},"y":{"datum":7.636,"type":"quantitative","scale":{"domain":[0,7],"nice":false,"zero":false},"axis":null},"text":{"value":"g"}}},
  {"data":{"values":[{}]},"mark":{"type":"text","fontSize":16,"align":"center","baseline":"alphabetic"},"encoding":{"x":{"datum":30.55,"type":"quantitative","scale":{"domain":[10,50],"nice":false,"zero":false}},"y":{"datum":7.52,"type":"quantitative","scale":{"domain":[0,7],"nice":false,"zero":false},"axis":null},"text":{"value":"pₐₐ = 0.15, ψ = 1.2"}}},
  {"data":{"values":[{}]},"mark":{"type":"point","shape":"square","filled":true,"size":182,"fill":"#0000ff","stroke":"#000","strokeWidth":1,"opacity":1},"encoding":{"x":{"datum":43.83,"type":"quantitative","scale":{"domain":[10,50],"nice":false,"zero":false}},"y":{"datum":7.684,"type":"quantitative","scale":{"domain":[0,7],"nice":false,"zero":false},"axis":null}}}
 ]},
{"width":253,"height":220,"view":{"fill":"#ebebeb","stroke":"#707070"},
 "resolve":{"scale":{"y":"independent"}},
 "layer":[
  {"data":{"name":"inc"},"transform":[{"filter":"datum.p === 'h'"},{"flatten":["d","v"]}],"mark":{"type":"line","strokeWidth":2,"interpolate":"monotone","clip":true},
   "encoding":{"x":{"field":"d","type":"quantitative","scale":{"domain":[10,50],"nice":false,"zero":false},"axis":{"values":[10,20,30,40,50],"labels":true,"ticks":false,"tickSize":0,"labelFontSize":16,"labelPadding":6,"title":null}},
    "y":{"field":"v","type":"quantitative","scale":{"domain":[0,7],"nice":false,"zero":false},"axis":{"orient":"left","values":[0,1,2,3,4,5,6,7],"grid":true,"gridColor":"#f8f8f8","ticks":false,"tickSize":0,"labels":false,"title":null}},
    "color":{"field":"s","type":"nominal","legend":null,"scale":{"domain":["U","A","E","H","B"],"range":["#0000ff","#00ffff","#00ff00","#ffff00","#ff0000"]}}}},
  {"data":{"name":"cum"},"transform":[{"filter":"datum.p === 'h'"},{"flatten":["d","c"]}],"mark":{"type":"line","strokeWidth":2,"strokeDash":[6,4],"interpolate":"monotone","clip":true},
   "encoding":{"x":{"field":"d","type":"quantitative","scale":{"domain":[10,50],"nice":false,"zero":false}},
    "y":{"field":"c","type":"quantitative","scale":{"domain":[0,120],"nice":false,"zero":false},"axis":{"orient":"right","values":[0,20,40,60,80,100,120],"domain":true,"tickSize":4,"labels":true,"labelFontSize":16,"labelPadding":6,"title":null}},
    "color":{"field":"s","type":"nominal","legend":null}}},
  {"data":{"values":[{}]},"mark":{"type":"rule","color":"#000","strokeWidth":1.2,"strokeDash":[5,2.5,1.5,2.5]},"encoding":{"y":{"datum":100,"type":"quantitative","scale":{"domain":[0,120],"nice":false,"zero":false},"axis":null}}},
  {"data":{"values":[{}]},"mark":{"type":"text","fontSize":24,"fontWeight":"bold","align":"left","baseline":"alphabetic"},"encoding":{"x":{"datum":9.05,"type":"quantitative","scale":{"domain":[10,50],"nice":false,"zero":false}},"y":{"datum":7.6,"type":"quantitative","scale":{"domain":[0,7],"nice":false,"zero":false},"axis":null},"text":{"value":"h"}}},
  {"data":{"values":[{}]},"mark":{"type":"text","fontSize":16,"align":"center","baseline":"alphabetic"},"encoding":{"x":{"datum":30.55,"type":"quantitative","scale":{"domain":[10,50],"nice":false,"zero":false}},"y":{"datum":7.52,"type":"quantitative","scale":{"domain":[0,7],"nice":false,"zero":false},"axis":null},"text":{"value":"pₐₐ = 0.75, ψ = 1.2"}}},
  {"data":{"values":[{}]},"mark":{"type":"point","shape":"square","filled":true,"size":182,"fill":"#ffff00","stroke":"#000","strokeWidth":1,"opacity":1},"encoding":{"x":{"datum":43.83,"type":"quantitative","scale":{"domain":[10,50],"nice":false,"zero":false}},"y":{"datum":7.684,"type":"quantitative","scale":{"domain":[0,7],"nice":false,"zero":false},"axis":null}}}
 ]}
]},
{"width":72,"height":535,"data":{"name":"leg"},
  "layer":[
   {"data":{"values":[{}]},"mark":{"type":"rect","fill":"#ebebeb"},
    "encoding":{"x":{"datum":0,"type":"quantitative","scale":{"domain":[-2,70],"nice":false,"zero":false},"axis":null},"x2":{"datum":90},
     "y":{"datum":0,"type":"quantitative","scale":{"domain":[1.2,36.87],"nice":false,"zero":false,"reverse":true},"axis":null},"y2":{"datum":35.67}}},
   {"transform":[{"filter":"datum.k !== 'pop'"}],"mark":{"type":"rule","strokeWidth":2},
    "encoding":{"x":{"datum":15,"type":"quantitative","scale":{"domain":[-2,70],"nice":false,"zero":false},"axis":null},"x2":{"datum":42},
     "y":{"field":"line","type":"quantitative","scale":{"domain":[1.2,36.87],"nice":false,"zero":false,"reverse":true},"axis":null},
     "color":{"field":"s","type":"nominal","legend":null,"scale":{"domain":["U","A","E","H","B"],"range":["#0000ff","#00ffff","#00ff00","#ffff00","#ff0000"]}},
     "strokeDash":{"field":"k","type":"nominal","legend":null,"scale":{"domain":["inc","cum"],"range":[[1,0],[10,6]]}}}},
   {"transform":[{"filter":"datum.k === 'pop'"}],"mark":{"type":"rule","strokeWidth":1.2,"color":"#000","strokeDash":[6,4,2,4],"yOffset":15},
    "encoding":{"x":{"datum":14,"type":"quantitative","scale":{"domain":[-2,70],"nice":false,"zero":false},"axis":null},"x2":{"datum":39},
     "y":{"field":"line","type":"quantitative","scale":{"domain":[1.2,36.87],"nice":false,"zero":false,"reverse":true},"axis":null}}},
   {"transform":[{"filter":"datum.k !== 'pop'"}],"mark":{"type":"text","fontSize":13,"align":"center","baseline":"middle"},
    "encoding":{"x":{"datum":60,"type":"quantitative","scale":{"domain":[-2,70],"nice":false,"zero":false},"axis":null},
     "y":{"field":"line","type":"quantitative","scale":{"domain":[1.2,36.87],"nice":false,"zero":false,"reverse":true},"axis":null},"text":{"field":"top"}}},
   {"transform":[{"filter":"datum.k !== 'pop'"}],"mark":{"type":"text","fontSize":13,"align":"center","baseline":"top","dy":9,"lineBreak":"\n","lineHeight":15},
    "encoding":{"x":{"datum":42,"type":"quantitative","scale":{"domain":[-2,70],"nice":false,"zero":false},"axis":null},
     "y":{"field":"line","type":"quantitative","scale":{"domain":[1.2,36.87],"nice":false,"zero":false,"reverse":true},"axis":null},"text":{"field":"rest"}}},
   {"transform":[{"filter":"datum.k === 'pop'"}],"mark":{"type":"text","fontSize":13,"align":"center","baseline":"middle"},
    "encoding":{"x":{"datum":42,"type":"quantitative","scale":{"domain":[-2,70],"nice":false,"zero":false},"axis":null},
     "y":{"field":"line","type":"quantitative","scale":{"domain":[1.2,36.87],"nice":false,"zero":false,"reverse":true},"axis":null},"text":{"field":"top"}}},
   {"transform":[{"filter":"datum.k === 'pop'"}],"mark":{"type":"text","fontSize":13,"align":"center","baseline":"middle","dy":15},
    "encoding":{"x":{"datum":58,"type":"quantitative","scale":{"domain":[-2,70],"nice":false,"zero":false},"axis":null},
     "y":{"field":"line","type":"quantitative","scale":{"domain":[1.2,36.87],"nice":false,"zero":false,"reverse":true},"axis":null},"text":{"field":"rest"}}}
  ]}
]
}
